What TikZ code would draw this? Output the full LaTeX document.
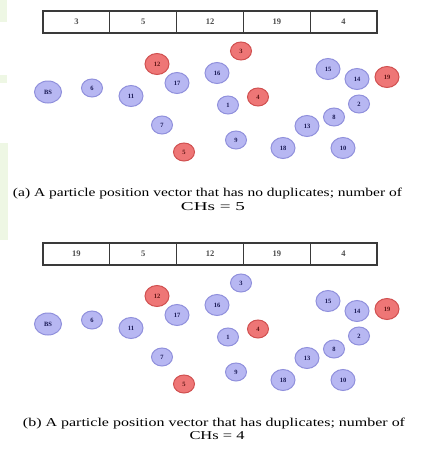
\documentclass[tikz,border=0pt]{standalone}
\usepackage{fontspec}
\setmainfont{Liberation Serif}
\usepackage{graphicx}
\usetikzlibrary{shapes.geometric}
\definecolor{bfill}{HTML}{B7B7F2}
\definecolor{bdraw}{HTML}{9090DC}
\definecolor{rfill}{HTML}{EE7676}
\definecolor{rdraw}{HTML}{D05050}
\definecolor{btext}{HTML}{1A1A55}
\definecolor{rtext}{HTML}{5E1515}
\definecolor{leaf}{HTML}{EEF7E4}
\definecolor{boxline}{HTML}{3A3A3A}
\begin{document}
\begin{tikzpicture}[x=1pt,y=-1pt,
  sensor/.style={ellipse, inner sep=0pt, line width=1pt,
    font=\fontsize{6.5}{7}\selectfont\bfseries,
    minimum width=24pt, minimum height=21pt},
  smallnode/.style={minimum width=21pt, minimum height=18pt},
  bsnode/.style={minimum width=27pt, minimum height=22pt},
  bnode/.style={sensor, draw=bdraw, fill=bfill, text=btext},
  rnode/.style={sensor, draw=rdraw, fill=rfill, text=rtext},
  cellbox/.style={draw=boxline, line width=1.2pt, minimum width=66.8pt,
    minimum height=22pt, inner sep=0pt,
    font=\fontsize{8.5}{9}\selectfont\bfseries, text=black!70},
  captext/.style={font=\fontsize{12}{13}\selectfont, inner sep=0pt, text=black}]
\useasboundingbox (0,0) rectangle (422,450);
\fill[leaf] (0,0) rectangle (7,22);
\fill[leaf] (0,75) rectangle (7,83);
\fill[leaf] (0,143) rectangle (8,240);

\foreach \p/\dy/\first/\tsty in {a/0/3/rnode, b/232/19/bnode} {
  \foreach \v [count=\i] in {\first,5,12,19,4}
    \node[cellbox] (\p-c\i) at (9.6+66.8*\i, 22+\dy) {\v};
  \node[bnode, bsnode] (\p-bs) at (48,92+\dy) {BS};
  \node[bnode, smallnode] (\p-6) at (92,88+\dy) {6};
  \node[bnode] (\p-11) at (131,96+\dy) {11};
  \node[rnode] (\p-12) at (157,64+\dy) {12};
  \node[bnode] (\p-17) at (177,83+\dy) {17};
  \node[bnode, smallnode] (\p-7) at (162,125+\dy) {7};
  \node[rnode, smallnode] (\p-5) at (184,152+\dy) {5};
  \node[bnode] (\p-16) at (217,73+\dy) {16};
  \node[style=\tsty, smallnode] (\p-3) at (241,51+\dy) {3};
  \node[bnode, smallnode] (\p-1) at (228,105+\dy) {1};
  \node[rnode, smallnode] (\p-4) at (258,97+\dy) {4};
  \node[bnode, smallnode] (\p-9) at (236,140+\dy) {9};
  \node[bnode] (\p-18) at (283,148+\dy) {18};
  \node[bnode] (\p-13) at (307,126+\dy) {13};
  \node[bnode, smallnode] (\p-8) at (334,117+\dy) {8};
  \node[bnode] (\p-15) at (328,69+\dy) {15};
  \node[bnode] (\p-14) at (357,79+\dy) {14};
  \node[rnode] (\p-19) at (387,77+\dy) {19};
  \node[bnode, smallnode] (\p-2) at (359,104+\dy) {2};
  \node[bnode] (\p-10) at (343,148+\dy) {10};
}

\node[captext] (capa1) at (207.5,194) {\resizebox{389pt}{\height}{(a) A particle position vector that has no duplicates; number of}};
\node[captext] (capa2) at (213,207) {\resizebox{64pt}{\height}{CHs = 5}};
\node[captext] (capb1) at (214,424) {\resizebox{382pt}{\height}{(b) A particle position vector that has duplicates; number of}};
\node[captext] (capb2) at (217,436) {\resizebox{55pt}{\height}{CHs = 4}};
\end{tikzpicture}
\end{document}
